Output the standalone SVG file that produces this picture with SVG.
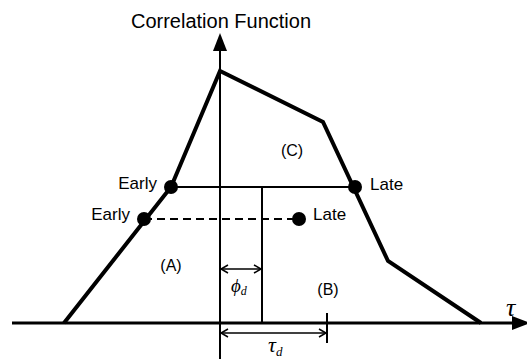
<svg xmlns="http://www.w3.org/2000/svg" width="527" height="359" viewBox="0 0 527 359">
<style>
.lbl{font-family:"Liberation Sans",Arial,sans-serif;font-size:17px;fill:#000}
.reg{font-family:"Liberation Sans",Arial,sans-serif;font-size:16px;fill:#000}
.gr{font-family:"Liberation Serif","DejaVu Serif",serif;font-style:italic;fill:#000}
.thin{stroke:#000;stroke-width:2;fill:none}
.dim{stroke:#000;stroke-width:1.5;fill:none}
.dot{fill:#000}
</style>
<rect width="527" height="359" fill="#fff"/>
<g id="axes">
  <line class="thin" x1="220" y1="48" x2="220" y2="359"/>
  <polygon points="220,33 213,51 227,51" fill="#000"/>
  <line x1="12" y1="323" x2="514" y2="323" stroke="#000" stroke-width="3"/>
  <polygon points="530,323 512,316 512,330" fill="#000"/>
  <text x="221" y="28" text-anchor="middle" font-family="Liberation Sans, Arial, sans-serif" font-size="20">Correlation Function</text>
  <text class="gr" x="506" y="316" font-size="26">τ</text>
</g>
<g id="curve">
  <polyline points="64,323 171,187 220,71 323,122 388,261 481,323" fill="none" stroke="#000" stroke-width="4" stroke-linejoin="miter"/>
</g>
<g id="connectors">
  <line class="thin" x1="171" y1="187" x2="355" y2="187"/>
  <line class="thin" x1="144" y1="219" x2="299" y2="219" stroke-dasharray="8 5"/>
  <line class="thin" x1="262" y1="187" x2="262" y2="323"/>
  <line class="thin" x1="327" y1="313" x2="327" y2="343"/>
  <line class="dim" x1="221" y1="269" x2="261" y2="269"/>
  <polyline class="dim" points="228,265 221,269 228,273"/>
  <polyline class="dim" points="254,265 261,269 254,273"/>
  <line class="dim" x1="221" y1="333" x2="326" y2="333"/>
  <polyline class="dim" points="228,329 221,333 228,337"/>
  <polyline class="dim" points="319,329 326,333 319,337"/>
</g>
<g id="early-upper"><circle class="dot" cx="171" cy="187" r="7"/><text class="lbl" x="157" y="189" text-anchor="end">Early</text></g>
<g id="late-upper"><circle class="dot" cx="355" cy="187" r="7"/><text class="lbl" x="370" y="190">Late</text></g>
<g id="early-lower"><circle class="dot" cx="144" cy="219" r="7"/><text class="lbl" x="130" y="220" text-anchor="end">Early</text></g>
<g id="late-lower"><circle class="dot" cx="299" cy="219" r="7"/><text class="lbl" x="313" y="220">Late</text></g>
<g id="labels">
  <text class="reg" x="292" y="156" text-anchor="middle">(C)</text>
  <text class="reg" x="171" y="271" text-anchor="middle">(A)</text>
  <text class="reg" x="328" y="295" text-anchor="middle">(B)</text>
  <text class="gr" x="231" y="292" font-size="19">ϕ<tspan font-size="12" dy="3">d</tspan></text>
  <text class="gr" x="268" y="352" font-size="22">τ<tspan font-size="13" dy="4">d</tspan></text>
</g>
</svg>
